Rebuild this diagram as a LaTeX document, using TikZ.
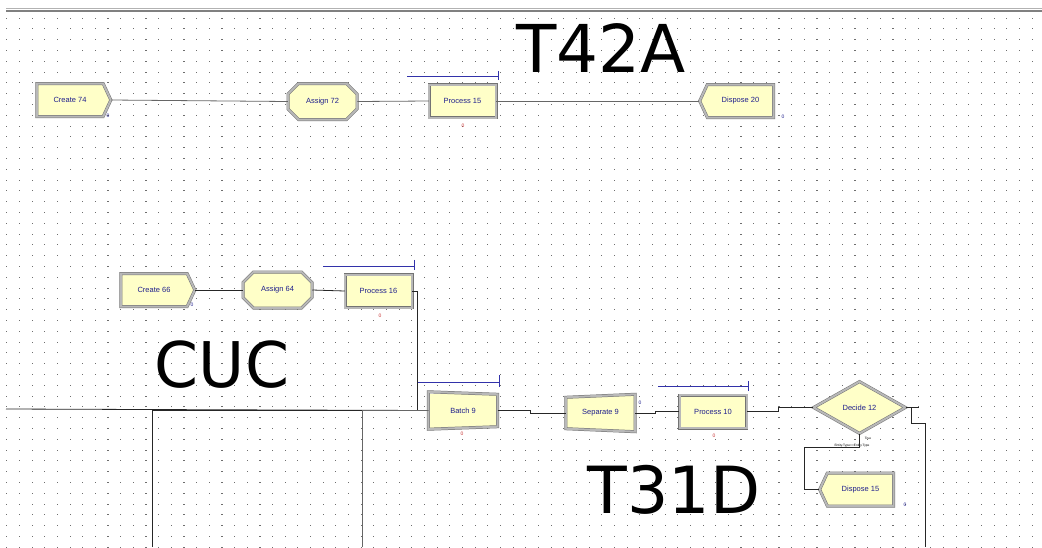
\documentclass[tikz,border=0pt]{standalone}
\usepackage{fontspec}
\setmainfont{Liberation Sans}
\newfontfamily\bigfont{DejaVu Sans}
\usetikzlibrary{shapes.geometric, shapes.misc, shapes.symbols, calc}
\definecolor{modfill}{RGB}{255,255,200}
\definecolor{modtext}{RGB}{30,30,140}
\definecolor{queueblue}{RGB}{50,50,170}
\definecolor{countred}{RGB}{200,50,50}
\definecolor{gridc}{RGB}{110,110,110}

\begin{document}
\begin{tikzpicture}[x=1pt, y=-1pt,
    modbase/.style={fill=modfill, font=\fontsize{7.5}{8}\selectfont, text=modtext, inner sep=1pt},
    modline/.style={draw=black!55, double=black!28, double distance=2pt, line width=0.5pt},
    processbox/.style={modbase, modline, rectangle, minimum width=67pt, minimum height=33pt},
    createbox/.style={modbase, modline, signal, signal to=east, signal pointer angle=130,
                      minimum width=74pt, minimum height=33pt},
    disposebox/.style={modbase, modline, signal, signal to=west, signal pointer angle=130,
                       minimum width=74pt, minimum height=33pt},
    assignbox/.style={modbase, modline, chamfered rectangle, chamfered rectangle xsep=6pt,
                      chamfered rectangle ysep=6pt, minimum width=69pt, minimum height=36pt},
    skewbox/.style={modbase, rectangle, minimum width=69pt, minimum height=34pt},
    decidebox/.style={modbase, modline, diamond, aspect=1.75, minimum width=92pt, minimum height=52pt},
    bigtag/.style={font=\bigfont\fontsize{66}{70}\selectfont, inner sep=0pt},
    cnt/.style={font=\fontsize{5}{5}\selectfont, inner sep=0pt},
    tinylabel/.style={font=\fontsize{3.2}{3.5}\selectfont, inner sep=0pt},
    queueline/.style={draw=queueblue, line width=0.8pt},
    link/.style={draw=black!85, line width=0.8pt}
]
    \fill[white] (0,0) rectangle (1042,547);
    \useasboundingbox (0,0) rectangle (1042,547);
    \draw[black!30, line width=1pt] (6,8.5) -- (1042,8.5);
    \draw[black!50, line width=2pt] (6,11) -- (1042,11);
    \foreach \i in {0,...,81}
        \foreach \j in {0,...,49}
            \fill[gridc] (6.2+12.66*\i, 17.5+10.8*\j) rectangle ++(1.1,1.1);

    \node[bigtag] (t42a) at (601,48) {T42A};
    \node[bigtag, font=\bigfont\fontsize{63}{66}\selectfont] (cuc) at (222,365) {CUC};
    \node[bigtag, font=\bigfont\fontsize{65}{68}\selectfont] (t31d) at (674,490) {T31D};

    \coordinate (left) at (6,409);
    \coordinate (down1) at (152,547);
    \coordinate (down2) at (362,547);
    \coordinate (down3) at (925,547);

    \node[createbox] (c74) at (70,100) {Create 74};
    \node[assignbox] (a72) at (322.5,101.5) {Assign 72};
    \node[processbox] (p15) at (462.5,101) {Process 15};
    \node[disposebox] (d20) at (740.5,101) {Dispose 20};

    \node[createbox] (c66) at (154,290) {Create 66};
    \node[assignbox] (a64) at (277.5,290) {Assign 64};
    \node[processbox] (p16) at (378.5,291) {Process 16};

    \node[skewbox] (b9) at (463,410.5) {Batch 9};
    \node[skewbox] (s9) at (600.5,413) {Separate 9};
    \node[processbox] (p10) at (713,411.5) {Process 10};
    \node[decidebox] (dec) at (859.5,407.5) {Decide 12};
    \node[disposebox] (d15) at (860.5,489.5) {Dispose 15};

    \draw[modline] ($(b9.north west)+(0,-1.5)$) -- ($(b9.north east)+(0,1)$)
        -- ($(b9.south east)+(0,-1)$) -- ($(b9.south west)+(0,1.5)$) -- cycle;
    \draw[modline] ($(s9.north west)+(0,1.5)$) -- ($(s9.north east)+(0,-1.5)$)
        -- ($(s9.south east)+(0,1.5)$) -- ($(s9.south west)+(0,-1.5)$) -- cycle;

    \draw[queueline] ($(p15.north east)+(2,-7.5)$) coordinate (q15) -- ++(-91,0) (q15) ++(0,-6) -- ++(0,9);
    \draw[queueline] ($(p16.north east)+(2,-7.5)$) coordinate (q16) -- ++(-91,0) (q16) ++(0,-7) -- ++(0,10);
    \draw[queueline] ($(b9.north east)+(1.5,-11)$) coordinate (qb9) -- ++(-82,0) (qb9) ++(0,-7) -- ++(0,12);
    \draw[queueline] ($(p10.north east)+(2,-8)$) coordinate (q10) -- ++(-91,0) (q10) ++(0,-6) -- ++(0,10);

    \node[cnt, text=modtext] (n74) at (108,116) {0};
    \node[cnt, text=countred] (n15) at (463,126) {0};
    \node[cnt, text=modtext] (n20) at (783,117) {0};
    \node[cnt, text=modtext] (n66) at (192,305) {0};
    \node[cnt, text=countred] (n16) at (380,316) {0};
    \node[cnt, text=countred] (nb9) at (462,434) {0};
    \node[cnt, text=modtext] (ns9) at (640,403) {0};
    \node[cnt, text=countred] (n10) at (714,436) {0};
    \node[cnt, text=modtext] (nd15) at (905,505) {0};

    \node[tinylabel] (dtrue) at (868,438.5) {True};
    \node[tinylabel] (dcond) at (852,446) {Entity.Type==Entity.Type};

    \draw[link, black!60] (c74.east) -- (a72.west);
    \draw[link, black!60] (a72.east) -- (p15.west);
    \draw[link, black!60] (p15.east) -- (d20.west);
    \draw[link] (c66.east) -- (a64.west);
    \draw[link] (a64.east) -- (p16.west);
    \draw[link] (p16.east) -- ++(5,0) |- (b9.west);
    \draw[link] (left) -- (b9.west);
    \draw[link] (down1) |- (b9.west);
    \draw[link, black!60] (down2) |- (b9.west);
    \draw[link] (b9.east) -- ++(33,0) |- (s9.west);
    \draw[link] (s9.east) -- ++(20,0) |- (p10.west);
    \draw[link] (p10.east) -- ++(32,0) |- (dec.west);
    \draw[link] (dec.east) -- ++(13,0);
    \draw[link] ($(dec.east)+(6,0)$) -- ++(0,16) -| (down3);
    \draw[link] (dec.south) -- ++(0,14) -| ($(d15.west)+(-15,0)$) -- (d15.west);
\end{tikzpicture}
\end{document}
